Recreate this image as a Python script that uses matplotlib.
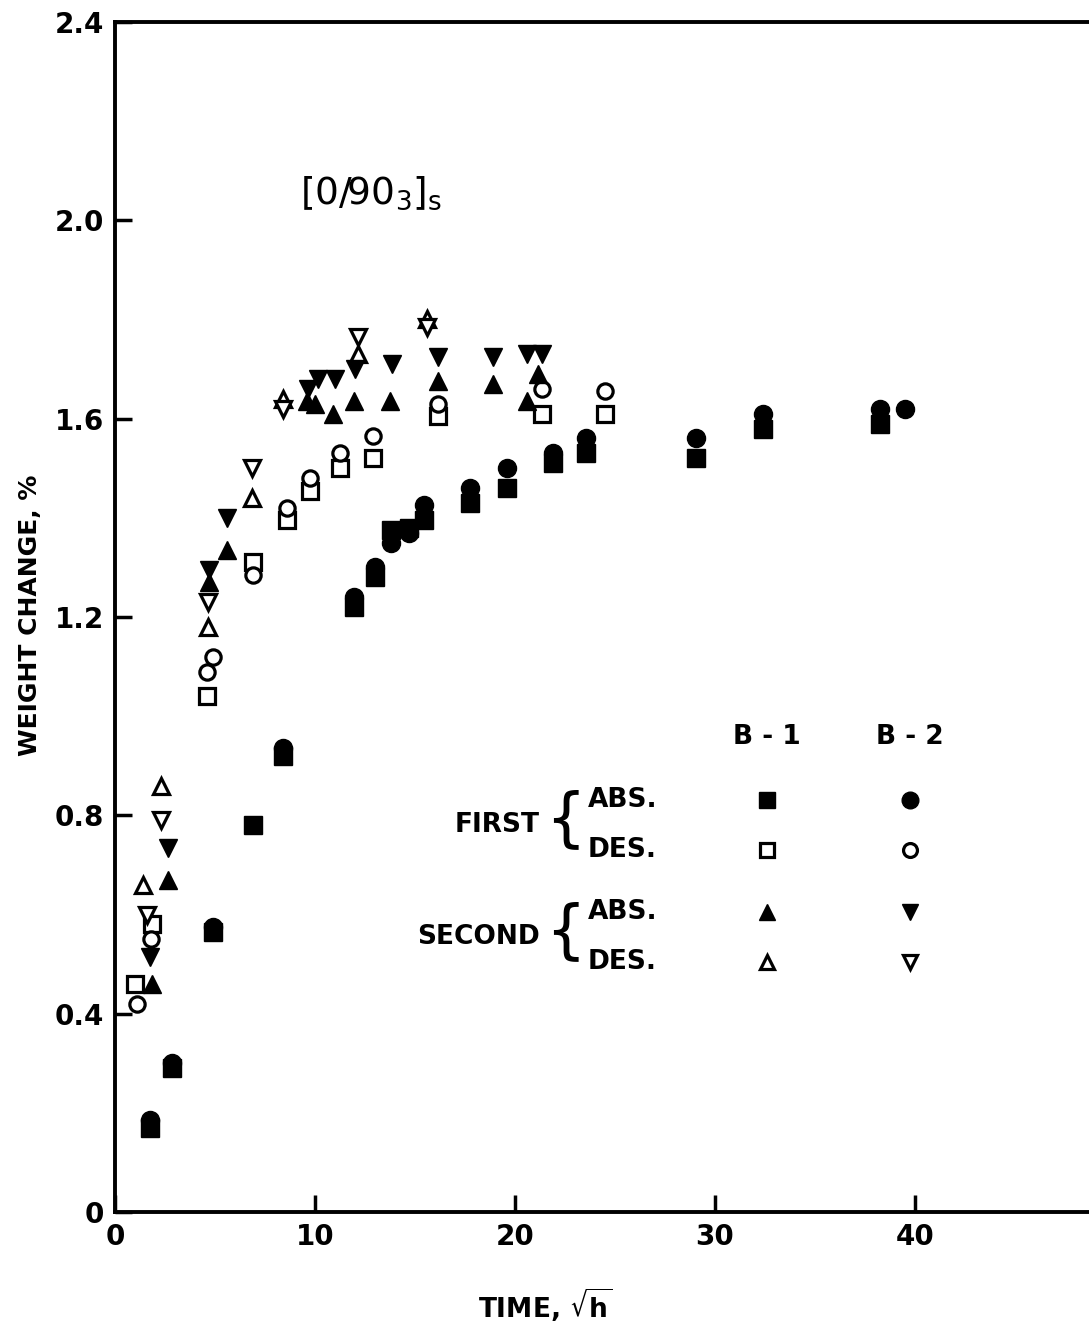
import matplotlib.pyplot as plt

# first absorption (filled) - B-1 squares, B-2 circles
abs1_b1_x = [1.75, 2.85, 4.9, 6.9, 8.4, 11.95, 13.0, 13.8, 14.7, 15.45, 17.75, 19.6, 21.9, 23.55, 29.05, 32.4, 38.25]
abs1_b1_y = [0.17, 0.29, 0.565, 0.78, 0.92, 1.22, 1.28, 1.375, 1.38, 1.395, 1.43, 1.46, 1.51, 1.53, 1.52, 1.58, 1.59]
abs1_b2_x = [1.75, 2.85, 4.9, 8.4, 11.95, 13.0, 13.8, 14.7, 15.45, 17.75, 19.6, 21.9, 23.55, 29.05, 32.4, 38.25, 39.5]
abs1_b2_y = [0.185, 0.30, 0.575, 0.935, 1.24, 1.30, 1.35, 1.37, 1.425, 1.46, 1.50, 1.53, 1.56, 1.56, 1.61, 1.62, 1.62]

# first desorption (open)
des1_b1_x = [1.0, 1.85, 4.6, 6.9, 8.6, 9.75, 11.25, 12.9, 16.15, 21.35, 24.5]
des1_b1_y = [0.46, 0.58, 1.04, 1.31, 1.395, 1.455, 1.50, 1.52, 1.605, 1.61, 1.61]
des1_b2_x = [1.1, 1.8, 4.6, 4.9, 6.9, 8.6, 9.75, 11.25, 12.9, 16.15, 21.35, 24.5]
des1_b2_y = [0.42, 0.55, 1.09, 1.12, 1.285, 1.42, 1.48, 1.53, 1.565, 1.63, 1.66, 1.655]

# second absorption (filled triangles)
abs2_b1_x = [1.85, 2.65, 4.7, 5.6, 9.6, 10.0, 10.9, 11.95, 13.75, 16.15, 18.9, 20.6, 21.15]
abs2_b1_y = [0.46, 0.67, 1.27, 1.335, 1.635, 1.63, 1.61, 1.635, 1.635, 1.675, 1.67, 1.635, 1.69]
abs2_b2_x = [1.75, 2.65, 4.7, 5.6, 9.65, 10.15, 11.0, 12.0, 13.85, 16.15, 18.9, 20.6, 21.35]
abs2_b2_y = [0.515, 0.735, 1.295, 1.40, 1.66, 1.68, 1.68, 1.70, 1.71, 1.725, 1.725, 1.73, 1.73]

# second desorption (open triangles)
des2_b1_x = [1.4, 2.3, 4.65, 6.85, 8.4, 12.15, 15.6]
des2_b1_y = [0.66, 0.86, 1.18, 1.44, 1.64, 1.73, 1.80]
des2_b2_x = [1.6, 2.3, 4.65, 6.85, 8.4, 12.15, 15.6]
des2_b2_y = [0.60, 0.79, 1.23, 1.50, 1.62, 1.765, 1.785]

x_ticks = [0, 10, 20, 30, 40]
y_ticks = [0, 0.4, 0.8, 1.2, 1.6, 2.0, 2.4]
y_ticklabels = ['0', '0.4', '0.8', '1.2', '1.6', '2.0', '2.4']

plt.rcParams['font.family'] = ['DejaVu Sans']
plt.rcParams['font.weight'] = 'bold'
plt.rcParams['axes.labelweight'] = 'bold'
plt.rcParams['mathtext.default'] = 'regular'

fig = plt.figure(figsize=(10.89, 13.32), dpi=100)
ax = fig.add_axes([115 / 1089, 1 - 1212 / 1332, 1 - 115 / 1089, (1212 - 22) / 1332])

fill = dict(linestyle='none', color='black', markersize=13)
hollow = dict(linestyle='none', markerfacecolor='white', markeredgecolor='black',
              markersize=11, markeredgewidth=2.3)

ax.plot(des1_b1_x, des1_b1_y, marker='s', **hollow)
ax.plot(des1_b2_x, des1_b2_y, marker='o', **hollow)
ax.plot(des2_b1_x, des2_b1_y, marker='^', **hollow)
ax.plot(des2_b2_x, des2_b2_y, marker='v', **hollow)
ax.plot(abs1_b1_x, abs1_b1_y, marker='s', **fill)
ax.plot(abs1_b2_x, abs1_b2_y, marker='o', **fill)
ax.plot(abs2_b1_x, abs2_b1_y, marker='^', **fill)
ax.plot(abs2_b2_x, abs2_b2_y, marker='v', **fill)

ax.set_xlim(0, 48.7)
ax.set_ylim(0, 2.4)
ax.set_xticks(x_ticks)
ax.set_yticks(y_ticks)
ax.set_yticklabels(y_ticklabels)
ax.tick_params(direction='in', length=12, width=2.5, labelsize=20, pad=8)
ax.spines['right'].set_visible(False)
for s in ['left', 'bottom', 'top']:
    ax.spines[s].set_linewidth(2.8)

fig.text(30 / 1089, 1 - 615 / 1332, 'WEIGHT CHANGE, %', fontsize=18, rotation=90,
         ha='center', va='center')
fig.text(545 / 1089, 1 - 1305 / 1332, r'TIME, $\sqrt{\mathbf{h}}$', fontsize=19,
         ha='center', va='center')

ax.text(9.25, 2.055, r'[0/90$_3$]$_s$', fontsize=27, fontweight='normal', va='center')

# legend block
t = ax.transAxes
lx1, lx2 = (767 - 115) / 974, (910 - 115) / 974
def ay(py):
    return (1212 - py) / 1190
ax.text(lx1, ay(737), 'B - 1', transform=t, ha='center', va='center', fontsize=19)
ax.text(lx2, ay(737), 'B - 2', transform=t, ha='center', va='center', fontsize=19)
rows = [(800, 's', True), (850, 's', False), (912, '^', True), (962, '^', False)]
rows2 = [(800, 'o', True), (850, 'o', False), (912, 'v', True), (962, 'v', False)]
for (py, m, f), (_, m2, f2) in zip(rows, rows2):
    st = dict(fill) if f else dict(hollow)
    st['markersize'] = 12 if f else 10
    ax.plot([lx1], [ay(py)], marker=m, transform=t, **st)
    st2 = dict(fill) if f2 else dict(hollow)
    st2['markersize'] = 12 if f2 else 10
    ax.plot([lx2], [ay(py)], marker=m2, transform=t, **st2)
    ax.text((588 - 115) / 974, ay(py), 'ABS.' if f else 'DES.', transform=t,
            va='center', fontsize=19)
for py, lab in [(825, 'FIRST'), (937, 'SECOND')]:
    ax.text((540 - 115) / 974, ay(py), lab, transform=t, ha='right', va='center', fontsize=19)
    ax.text((545 - 115) / 974, ay(py) + 0.004, '{', transform=t, ha='left', va='center',
            fontsize=46, fontweight='normal')

fig.savefig('out.png', dpi=100)
